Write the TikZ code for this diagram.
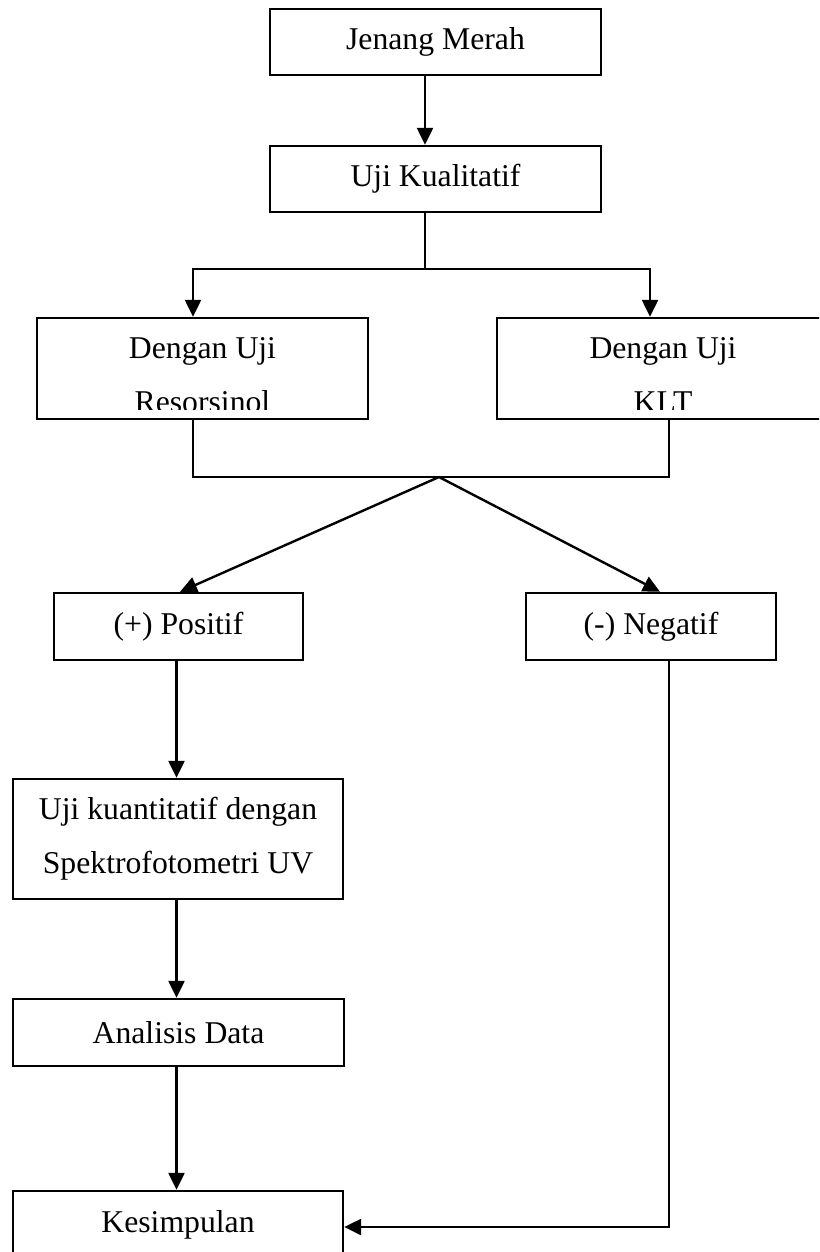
\documentclass[tikz,border=0pt]{standalone}
\usepackage{fontspec}
\setmainfont{Liberation Serif}
\usetikzlibrary{arrows.meta}

\begin{document}
\begin{tikzpicture}[x=0.5pt,y=-0.5pt,line width=1.2pt,
  box/.style={draw,rectangle,inner sep=0pt,align=center,font=\fontsize{15.85}{27}\selectfont},
  arr/.style={-{Triangle[length=8.5pt,width=8pt]}}]
\clip (0,0) rectangle (819,1252);
\node[box,minimum width=165.5pt,minimum height=33pt] (jm) at (435.5,42) {Jenang Merah};
\node[box,minimum width=165.5pt,minimum height=33pt] (uk) at (435.5,179) {Uji Kualitatif};
\node[box,minimum width=165.5pt,minimum height=50.5pt] (ur) at (202.5,368.5) {};
\node[box,minimum width=166pt,minimum height=50.5pt] (kt) at (663,368.5) {};
% tulisan baris kedua terpotong tepi bawah kotak
\begin{scope}
\clip (ur.north west) rectangle ([yshift=5.5pt]ur.south east);
\node[box,draw=none] (urtxt) at ([yshift=-3.25pt]ur) {Dengan Uji\\Resorsinol};
\end{scope}
\begin{scope}
\clip (kt.north west) rectangle ([yshift=5.5pt]kt.south east);
\node[box,draw=none] (kttxt) at ([yshift=-3.25pt]kt) {Dengan Uji\\KLT};
\end{scope}
\node[box,minimum width=124.5pt,minimum height=33.5pt] (pos) at (178.5,626.5) {(+) Positif};
\node[box,minimum width=125pt,minimum height=33.5pt] (neg) at (651,626.5) {(-) Negatif};
\node[box,minimum width=165pt,minimum height=60pt] (kn) at (178,839) {Uji kuantitatif dengan\\Spektrofotometri UV};
\node[box,minimum width=165.5pt,minimum height=33.5pt] (ad) at (178.5,1032.5) {Analisis Data};
\node[box,minimum width=165pt,minimum height=33.5pt] (ks) at (178,1224.5) {Kesimpulan};
\coordinate (split) at (425,269);
\coordinate (merge) at (439,477);
\draw[arr] ([xshift=-5.25pt]jm.south) -- ([xshift=-5.25pt]uk.north);
\draw ([xshift=-5.25pt]uk.south) -- (split);
\draw[arr] (split) -| ([xshift=-4.75pt]ur.north);
\draw[arr] (split) -| ([xshift=-6.5pt]kt.north);
\draw ([xshift=-4.75pt]ur.south) |- (merge) -| ([xshift=3pt]kt.south);
\draw[arr] (merge) -- ([xshift=0.75pt]pos.north);
\draw[arr] (merge) -- ([xshift=4.5pt]neg.north);
\draw[arr] ([xshift=-1pt]pos.south) -- ([xshift=-0.75pt]kn.north);
\draw[arr] ([xshift=-0.75pt]kn.south) -- ([xshift=-1pt]ad.north);
\draw[arr] ([xshift=-1pt]ad.south) -- ([xshift=-0.75pt]ks.north);
\draw[arr] ([xshift=9pt]neg.south) |- ([yshift=-1.25pt]ks.east);
\end{tikzpicture}
\end{document}
